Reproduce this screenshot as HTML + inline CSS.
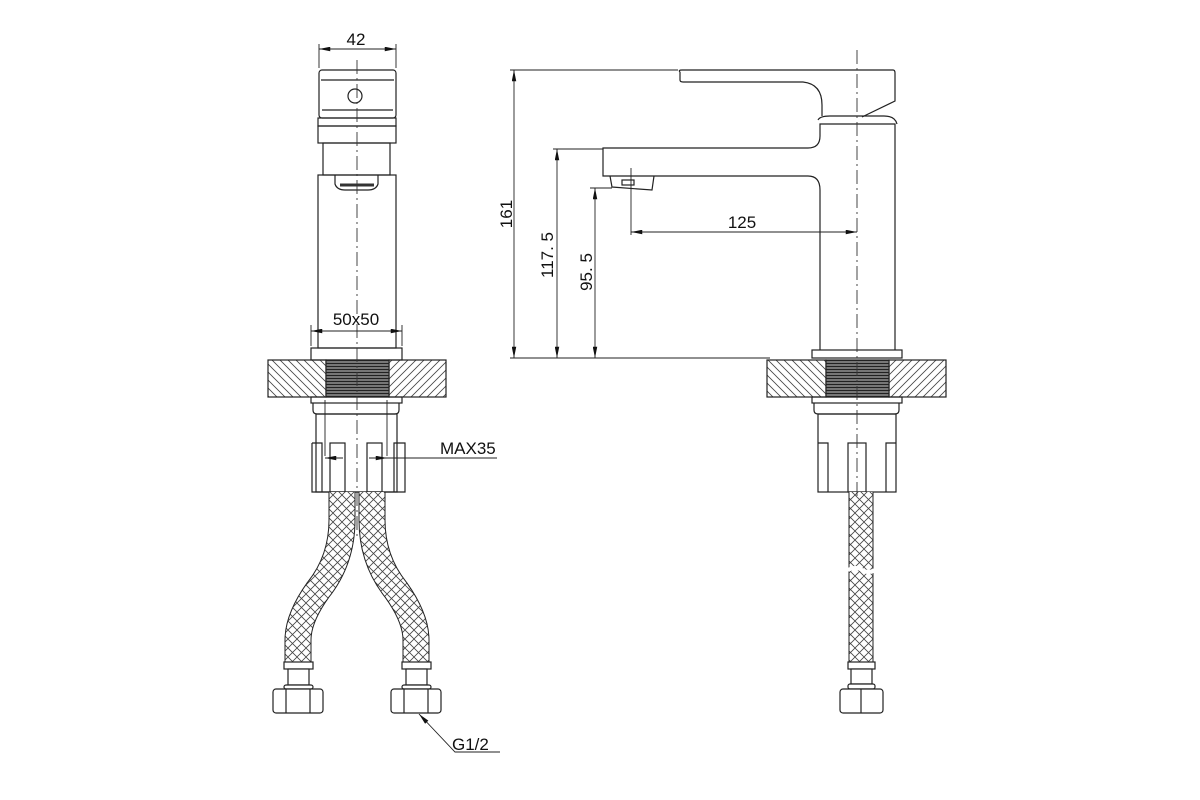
<!DOCTYPE html>
<html><head><meta charset="utf-8"><style>
html,body{margin:0;padding:0;background:#fff}
svg{display:block}
text{font-family:"Liberation Sans",sans-serif;fill:#111}
</style></head><body>
<svg width="1200" height="800" viewBox="0 0 1200 800" xmlns="http://www.w3.org/2000/svg">
<defs>
<pattern id="mesh" width="9" height="9" patternUnits="userSpaceOnUse">
<rect width="9" height="9" fill="#fff"/>
<path d="M0 0L9 9M9 0L0 9" stroke="#444" stroke-width="0.8"/>
</pattern>
<pattern id="hatchL" width="8" height="8" patternUnits="userSpaceOnUse">
<path d="M-2 -2L10 10M-2 6L2 10M6 -2L10 2" stroke="#444" stroke-width="0.8"/>
</pattern>
<pattern id="hatchR" width="8" height="8" patternUnits="userSpaceOnUse">
<path d="M10 -2L-2 10M-2 2L2 -2M6 10L10 6" stroke="#444" stroke-width="0.8"/>
</pattern>
<pattern id="thread" width="4" height="3" patternUnits="userSpaceOnUse">
<rect width="4" height="3" fill="#777"/>
<path d="M0 0.5H4" stroke="#222" stroke-width="1"/>
</pattern>
<marker id="ar" viewBox="0 0 10 4" refX="10" refY="2" markerWidth="12" markerHeight="4.5" orient="auto-start-reverse" markerUnits="userSpaceOnUse">
<path d="M0 0L10 2L0 4z" fill="#111"/>
</marker>
</defs>

<g fill="none" stroke="#222" stroke-width="1.2">
<rect x="319" y="70" width="77" height="48" rx="3"/>
<path d="M321 80H394M322 110H393"/>
<circle cx="355" cy="96" r="7"/>
<rect x="318" y="118" width="78" height="8"/>
<rect x="318" y="126" width="78" height="17"/>
<rect x="323" y="143" width="67" height="32"/>
<rect x="318" y="175" width="78" height="173"/>
<path d="M335 175V184Q337 190 345 190H368Q376 190 378 184V175"/>
<path d="M340 185H374" stroke-width="3" stroke="#333"/>
<rect x="311" y="348" width="91" height="12"/>
<rect x="268" y="360" width="58" height="37" fill="url(#hatchL)"/>
<rect x="389" y="360" width="57" height="37" fill="url(#hatchR)"/>
<rect x="326" y="360" width="63" height="37" fill="url(#thread)"/>
<rect x="311" y="397" width="91" height="6"/>
<path d="M313 403V410Q313 414 317 414H395Q399 414 399 410V403"/>
<rect x="316" y="414" width="81" height="78"/>
<path d="M312 443H322V492M312 443V492H405V443H394V492M394 443H405"/>
<rect x="330" y="443" width="15" height="49"/>
<rect x="367" y="443" width="15" height="49"/>

<path d="M680 72Q678 70 682 70H893Q895 70 895 73V101L862 117"/>
<path d="M680 72V80Q680 82 683 82H803Q822 84 822 105V116"/>
<path d="M818 120Q820 116 830 116H884Q895 116 897 124"/>
<path d="M822 124H895V350M822 124H820V136Q820 148 808 148H603V176H612M808 176Q820 176 820 190V350"/>
<path d="M612 176H808"/>
<path d="M610 176L612 187L652 190L654 176"/>
<rect x="622" y="180" width="12" height="5"/>
<rect x="812" y="350" width="90" height="8"/>
<rect x="767" y="360" width="59" height="37" fill="url(#hatchL)"/>
<rect x="889" y="360" width="57" height="37" fill="url(#hatchR)"/>
<rect x="826" y="360" width="63" height="37" fill="url(#thread)"/>
<rect x="812" y="397" width="90" height="6"/>
<path d="M814 403V410Q814 414 818 414H895Q899 414 899 410V403"/>
<rect x="818" y="414" width="78" height="78"/>
<path d="M818 443H828V492M886 492V443H896"/>
<rect x="848" y="443" width="18" height="49"/>
</g>

<g fill="none" stroke-linecap="butt">
<path d="M342 492V520Q342 560 318 590Q298 618 298 640V662" stroke="#222" stroke-width="27"/>
<path d="M342 492V520Q342 560 318 590Q298 618 298 640V662" stroke="url(#mesh)" stroke-width="25"/>
<path d="M372 492V520Q372 560 396 590Q416 618 416 640V662" stroke="#222" stroke-width="27"/>
<path d="M372 492V520Q372 560 396 590Q416 618 416 640V662" stroke="url(#mesh)" stroke-width="25"/>
<path d="M861 492V662" stroke="#222" stroke-width="25"/>
<path d="M861 492V662" stroke="url(#mesh)" stroke-width="23"/>
<path d="M848 570Q856 566 862 570Q868 574 875 570" stroke="#fff" stroke-width="4"/>
</g>

<g fill="#fff" stroke="#222" stroke-width="1.2">
<rect x="284" y="662" width="29" height="7"/>
<rect x="288" y="669" width="21" height="16"/>
<rect x="284" y="685" width="29" height="4" rx="2"/>
<rect x="273" y="689" width="50" height="24" rx="3"/>
<path d="M286 689V713M310 689V713" fill="none"/>
<rect x="402" y="662" width="29" height="7"/>
<rect x="406" y="669" width="21" height="16"/>
<rect x="402" y="685" width="29" height="4" rx="2"/>
<rect x="391" y="689" width="50" height="24" rx="3"/>
<path d="M404 689V713M428 689V713" fill="none"/>
<rect x="848" y="662" width="27" height="7"/>
<rect x="851" y="669" width="21" height="15"/>
<rect x="848" y="684" width="27" height="5" rx="2"/>
<rect x="840" y="689" width="43" height="24" rx="3"/>
<path d="M861 689V713" fill="none"/>
</g>

<g stroke="#333" stroke-width="0.9" stroke-dasharray="14,4,2,4" fill="none">
<path d="M357 60V540"/>
<path d="M857 50V500"/>
</g>

<g stroke="#222" stroke-width="0.9" fill="none">
<path d="M319 68V44M396 68V44"/>
<path d="M319 49H396" marker-start="url(#ar)" marker-end="url(#ar)"/>
<path d="M311 346V325M402 346V325"/>
<path d="M311 331H402" marker-start="url(#ar)" marker-end="url(#ar)"/>
<path d="M325 400V456M387 400V456"/>
<path d="M343 458H325" marker-end="url(#ar)"/>
<path d="M369 458H387" marker-end="url(#ar)"/>
<path d="M387 458H497"/>
<path d="M510 70H678M510 358H770M553 149H603M590 188H612"/>
<path d="M514 70V358" marker-start="url(#ar)" marker-end="url(#ar)"/>
<path d="M557 149V358" marker-start="url(#ar)" marker-end="url(#ar)"/>
<path d="M595 188V358" marker-start="url(#ar)" marker-end="url(#ar)"/>
<path d="M631 168V235"/>
<path d="M631 232H857" marker-start="url(#ar)" marker-end="url(#ar)"/>
<path d="M500 752H455L419 714" marker-end="url(#ar)"/>
</g>

<g font-size="17">
<text x="356" y="45" text-anchor="middle">42</text>
<text x="356" y="325" text-anchor="middle">50x50</text>
<text x="440" y="454">MAX35</text>
<text x="742" y="228" text-anchor="middle">125</text>
<text x="452" y="750">G1/2</text>
<text transform="translate(512,214) rotate(-90)" text-anchor="middle">161</text>
<text transform="translate(553,255) rotate(-90)" text-anchor="middle">117. 5</text>
<text transform="translate(592,272) rotate(-90)" text-anchor="middle">95. 5</text>
</g>
</svg>
</body></html>
